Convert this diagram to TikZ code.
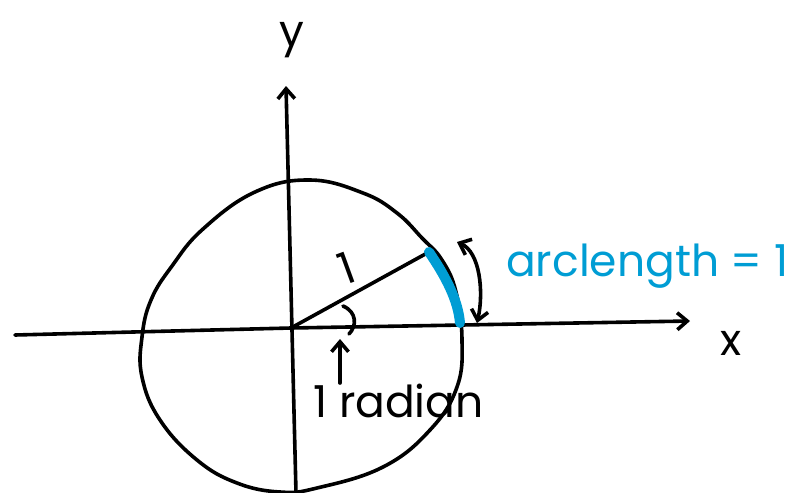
\documentclass[tikz,border=0pt]{standalone}
\usepackage{fontspec}
\setmainfont{Poppins}
\usetikzlibrary{arrows.meta}
\definecolor{arcblue}{RGB}{0,157,212}
\tikzset{
  pen/.style={black, line width=3.6pt, line cap=round, line join=round},
  tipped/.style={pen, -{Straight Barb[length=10pt,width=17pt,line width=3.6pt]}},
  hand/.style={inner sep=0pt, font=\fontsize{44}{44}\selectfont},
}
\begin{document}
\begin{tikzpicture}[x=1pt, y=-1pt]
    \useasboundingbox (0,0) rectangle (788,493);
    % Axes
    \coordinate (O) at (291,328);
    \coordinate (xl) at (15,335);
    \coordinate (xr) at (690,321);
    \coordinate (yb) at (296,493);
    \coordinate (yt) at (286,86);
    \draw[tipped] (xl) -- (O) -- (xr);
    \draw[tipped] (yb) -- (yt);
    \node[hand] (xlab) at (731,343) {x};
    \node[hand] (ylab) at (292,40) {y};
    % Circle (hand drawn)
    \draw[pen] plot[smooth cycle, tension=0.7] coordinates {
        (310,180) (363,193) (397,213) (422,238) (442,260) (456,292) (462,340)
        (457,387) (430,430) (383,467) (317,488) (280,492) (237,483) (197,460)
        (160,420) (142,377) (142,337) (151,300) (172,266) (203,229) (255,192)};
    % Radius and angle
    \coordinate (P) at (429,252);
    \coordinate (Q) at (460,323);
    \draw[pen] (O) -- (P);
    \coordinate (a1) at (343,306);
    \coordinate (a2) at (349,334);
    \draw[pen] (a1) .. controls (357,312) and (357,326) .. (a2);
    \node[hand, rotate=20] (one) at (347,268) {1};
    % Arc of length 1
    \draw[arcblue, line width=10pt, line cap=round] (P) .. controls (446,277) and (458,300) .. (Q);
    \coordinate (d1) at (457,242);
    \coordinate (d2) at (477,323);
    \draw[pen, {Straight Barb[length=10pt,width=17pt,line width=3.6pt]}-{Straight Barb[length=10pt,width=17pt,line width=3.6pt]}]
        (d1) .. controls (480,252) and (484,292) .. (d2);
    \node[hand, text=arcblue, anchor=west] (arclen) at (506,266) {arclength = 1};
    % Label for the angle
    \node[hand, anchor=west] (rad) at (313,401) {1 radian};
    \coordinate (r1) at (340,383);
    \coordinate (r2) at (340,339);
    \draw[tipped] (r1) -- (r2);
\end{tikzpicture}
\end{document}
